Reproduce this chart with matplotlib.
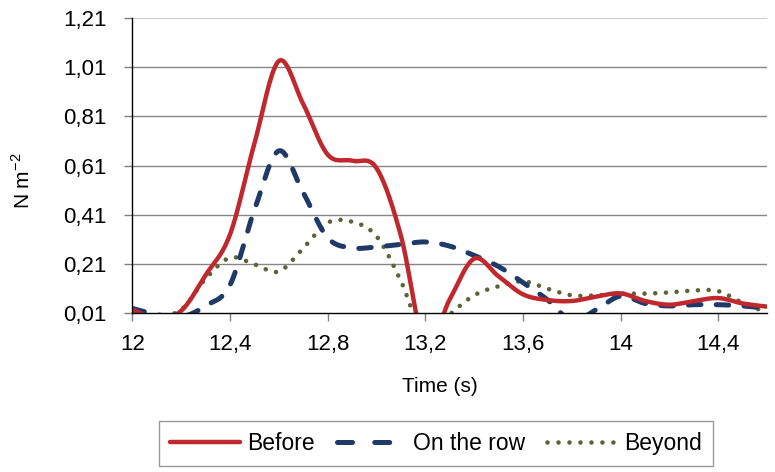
import numpy as np
import matplotlib
matplotlib.use("Agg")
import matplotlib.pyplot as plt
from matplotlib.lines import Line2D

plt.rcParams['font.family'] = ['Liberation Sans', 'DejaVu Sans']
plt.rcParams['lines.scale_dashes'] = False

# ---- data (0.1 s sampling) ----
time = [12.0, 12.1, 12.2, 12.3, 12.4, 12.5, 12.6, 12.7, 12.8, 12.9, 13.0,
        13.1, 13.2, 13.3, 13.4, 13.5, 13.6, 13.7, 13.8, 13.9, 14.0, 14.1,
        14.2, 14.3, 14.4, 14.5, 14.6]
before = [0.025, -0.01, 0.02, 0.165, 0.33, 0.70, 1.035, 0.86, 0.655, 0.63, 0.60,
          0.325, -0.12, 0.067, 0.232, 0.16, 0.087, 0.064, 0.06, 0.078, 0.091, 0.06,
          0.045, 0.06, 0.072, 0.05, 0.037]
on_row = [0.03, 0.005, -0.005, 0.04, 0.125, 0.43, 0.67, 0.50, 0.317, 0.276, 0.28,
          0.29, 0.30, 0.283, 0.245, 0.20, 0.135, 0.065, -0.02, 0.025, 0.08, 0.05,
          0.04, 0.045, 0.045, 0.04, 0.03]
beyond = [0.015, 0.0, 0.025, 0.15, 0.236, 0.209, 0.18, 0.275, 0.378, 0.382, 0.323,
          0.141, -0.09, 0.005, 0.083, 0.12, 0.14, 0.11, 0.083, 0.083, 0.09, 0.09,
          0.095, 0.103, 0.10, 0.052, 0.013]
series_names = ["Before", "On the row", "Beyond"]
xticks = [12.0, 12.4, 12.8, 13.2, 13.6, 14.0, 14.4]
xtick_labels = ["12", "12,4", "12,8", "13,2", "13,6", "14", "14,4"]
yticks = [0.01, 0.21, 0.41, 0.61, 0.81, 1.01, 1.21]
ytick_labels = ["0,01", "0,21", "0,41", "0,61", "0,81", "1,01", "1,21"]


def smooth(x, y, n=30):
    """Excel-like smoothed line (Catmull-Rom / cubic Bezier through the points)."""
    x = np.asarray(x, float)
    y = np.asarray(y, float)
    px = np.concatenate([[x[0]], x, [x[-1]]])
    py = np.concatenate([[y[0]], y, [y[-1]]])
    xs, ys = [], []
    t = np.linspace(0, 1, n, endpoint=False)
    for i in range(1, len(px) - 2):
        p0x, p1x, p2x, p3x = px[i - 1], px[i], px[i + 1], px[i + 2]
        p0y, p1y, p2y, p3y = py[i - 1], py[i], py[i + 1], py[i + 2]
        c1x = p1x + (p2x - p0x) / 6
        c1y = p1y + (p2y - p0y) / 6
        c2x = p2x - (p3x - p1x) / 6
        c2y = p2y - (p3y - p1y) / 6
        bx = (1 - t) ** 3 * p1x + 3 * (1 - t) ** 2 * t * c1x + 3 * (1 - t) * t ** 2 * c2x + t ** 3 * p2x
        by = (1 - t) ** 3 * p1y + 3 * (1 - t) ** 2 * t * c1y + 3 * (1 - t) * t ** 2 * c2y + t ** 3 * p2y
        xs.append(bx)
        ys.append(by)
    xs.append([x[-1]])
    ys.append([y[-1]])
    return np.concatenate(xs), np.concatenate(ys)


fig = plt.figure(figsize=(7.75, 4.72), dpi=100)
ax = fig.add_axes([0.1707, 0.3362, 0.8193, 0.6257])

red = '#C0282D'
navy = '#1F3A68'
olive = '#5A6437'

grid_c = '#868686'
for yv in yticks[1:-1]:
    ax.axhline(yv, color=grid_c, lw=1.0, zorder=1)
ax.axhline(yticks[-1], color='#BFBFBF', lw=1.2, zorder=1)

sx, sy = smooth(time, beyond)
ax.plot(sx, sy, color=olive, lw=3.3, dashes=(0.01, 7.7), dash_capstyle='round',
        zorder=3)
sx, sy = smooth(time, on_row)
ax.plot(sx, sy, color=navy, lw=3.6, dashes=(9, 11), dash_capstyle='round', zorder=4)
sx, sy = smooth(time, before)
ax.plot(sx, sy, color=red, lw=3.2, solid_capstyle='round', zorder=5)

ax.set_xlim(12.0, 14.6)
ax.set_ylim(0.01, 1.21)
ax.set_xticks(xticks)
ax.set_xticklabels(xtick_labels)
ax.set_yticks(yticks)
ax.set_yticklabels(ytick_labels)
ax.tick_params(axis='both', direction='out', length=6, width=1, color='#808080',
               labelsize=16, labelcolor='black')
ax.tick_params(axis='x', pad=9)
ax.tick_params(axis='y', pad=12.5)

for s in ['top', 'right']:
    ax.spines[s].set_visible(False)
for s in ['left', 'bottom']:
    ax.spines[s].set_color('black')
    ax.spines[s].set_linewidth(1.0)
    ax.spines[s].set_zorder(6)

ax.set_xlabel("Time (s)", fontsize=15)
ax.xaxis.set_label_coords(0.485, -0.215)
ax.set_ylabel(r"N m$^{\mathregular{-2}}$", fontsize=15)
ax.yaxis.set_label_coords(-0.155, 0.45)

handles = [
    Line2D([], [], color=red, lw=3.2, solid_capstyle='round'),
    Line2D([], [], color=navy, lw=3.6, dashes=(10.8, 16), dash_capstyle='round'),
    Line2D([], [], color=olive, lw=3.3, dashes=(0.01, 7.9), dash_capstyle='round'),
]
leg = fig.legend(handles, series_names, loc='center', bbox_to_anchor=(0.5626, 0.0604),
                 ncol=3, frameon=True, fancybox=False, fontsize=16.5,
                 handlelength=3.05, handletextpad=0.3, columnspacing=0.95,
                 borderpad=0.5)
leg.get_frame().set_edgecolor('#808080')
leg.get_frame().set_linewidth(1.0)

fig.savefig("out.png", dpi=100)
